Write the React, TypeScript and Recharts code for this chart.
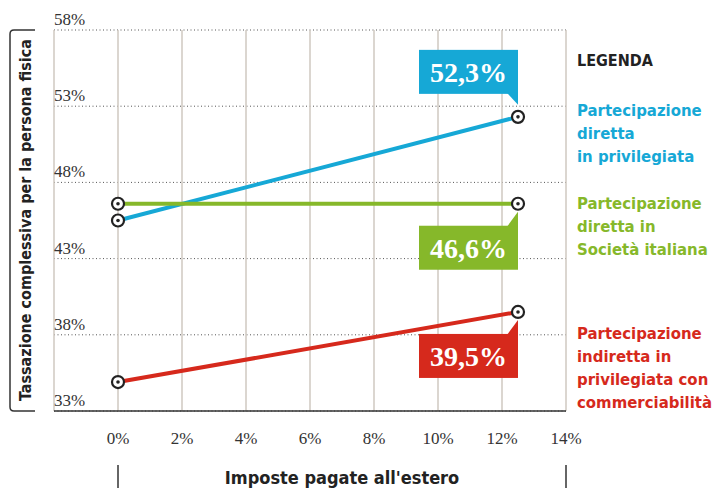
import React from 'react';
import { LineChart, Line, XAxis, YAxis, CartesianGrid, LabelList } from 'recharts';

const taxAbroad = [0, 12.5];
const diretta = [45.5, 52.3];
const italiana = [46.6, 46.6];
const indiretta = [34.9, 39.5];
const xTicks = [0, 2, 4, 6, 8, 10, 12, 14];
const yTicks = [33, 38, 43, 48, 53, 58];

const BLUE = '#16a8d6';
const GREEN = '#86b82a';
const RED = '#d6291c';
const DARK = '#222';

const SANS = "'DejaVu Sans Condensed', 'Liberation Sans Narrow', 'Roboto', sans-serif";
const SERIF = "'Liberation Serif', 'DejaVu Serif', serif";

const data = taxAbroad.map((x, i) => ({
  x,
  diretta: diretta[i],
  italiana: italiana[i],
  indiretta: indiretta[i],
}));

const fmt = (v: number) => v.toFixed(1).replace('.', ',') + '%';

const Marker = (props: any) => {
  const { cx, cy } = props;
  if (cx == null || cy == null) return null;
  return (
    <g>
      <circle cx={cx} cy={cy} r={6} fill="#fff" stroke={DARK} strokeWidth={2.2} />
      <circle cx={cx} cy={cy} r={1.8} fill={DARK} />
    </g>
  );
};

// callout box with a little tail pointing at the last point
const makeCallout = (color: string, above: boolean) => (props: any) => {
  const { x, y, value, index } = props;
  if (index !== taxAbroad.length - 1) return null;
  const w = 99;
  const h = 44;
  const right = x;
  const left = right - w;
  let top: number;
  let tail: string;
  if (above) {
    top = y - 23 - h;
    const b = top + h;
    tail = `M${right - 11},${b - 1} L${right},${b - 1} L${right},${b + 11} Z`;
  } else {
    top = y + 22;
    tail = `M${right - 11},${top + 1} L${right},${top + 1} L${right},${top - 14} Z`;
  }
  return (
    <g>
      <rect x={left} y={top} width={w} height={h} fill={color} />
      <path d={tail} fill={color} />
      <text
        x={left + w / 2}
        y={top + h / 2 + 1}
        textAnchor="middle"
        dominantBaseline="central"
        fill="#fff"
        fontFamily={SERIF}
        fontWeight="bold"
        fontSize={28}
      >
        {fmt(value)}
      </text>
    </g>
  );
};

const YTick = (props: any) => {
  const { x, y, payload } = props;
  return (
    <text x={x} y={y - 5} textAnchor="start" fill="#333" fontFamily={SERIF} fontSize={17}>
      {payload.value}%
    </text>
  );
};

const legend = [
  { color: BLUE, lines: ['Partecipazione', 'diretta', 'in privilegiata'], y: 110 },
  { color: GREEN, lines: ['Partecipazione', 'diretta in', 'Società italiana'], y: 203 },
  { color: RED, lines: ['Partecipazione', 'indiretta in', 'privilegiata con', 'commerciabilità'], y: 333 },
];

export default function App() {
  return (
    <div style={{ position: 'absolute', left: 0, top: 0, width: 716, height: 488, background: '#fff' }}>
      <LineChart width={716} height={488} data={data} margin={{ top: 30, right: 150, bottom: 47, left: 0 }}>
        <CartesianGrid vertical={false} stroke="#555" strokeDasharray="1 2.5" />
        <CartesianGrid horizontal={false} stroke="#cfc8c0" strokeWidth={1.5} />
        <XAxis
          dataKey="x"
          type="number"
          domain={[-2, 14]}
          ticks={xTicks}
          interval={0}
          tickFormatter={(v) => `${v}%`}
          axisLine={{ stroke: '#333', strokeWidth: 1.5 }}
          tickLine={false}
          tickSize={0}
          tickMargin={21}
          tick={{ fontSize: 17, fill: '#333', fontFamily: SERIF }}
        />
        <YAxis
          type="number"
          domain={[33, 58]}
          ticks={yTicks}
          interval={0}
          width={54}
          axisLine={false}
          tickLine={false}
          tickSize={0}
          tickMargin={0}
          tick={YTick}
        />
        <Line dataKey="diretta" stroke={BLUE} strokeWidth={4} dot={<Marker />} isAnimationActive={false}>
          <LabelList dataKey="diretta" content={makeCallout(BLUE, true)} />
        </Line>
        <Line dataKey="italiana" stroke={GREEN} strokeWidth={4} dot={<Marker />} isAnimationActive={false}>
          <LabelList dataKey="italiana" content={makeCallout(GREEN, false)} />
        </Line>
        <Line dataKey="indiretta" stroke={RED} strokeWidth={4} dot={<Marker />} isAnimationActive={false}>
          <LabelList dataKey="indiretta" content={makeCallout(RED, false)} />
        </Line>
      </LineChart>
      <svg width={716} height={488} style={{ position: 'absolute', left: 0, top: 0, pointerEvents: 'none' }}>
        <path d="M35,30 H14 Q10,30 10,34 V407 Q10,411 14,411 H35" fill="none" stroke="#333" strokeWidth={1.5} />
        <text
          transform="translate(25,220) rotate(-90)"
          textAnchor="middle"
          dominantBaseline="central"
          fontFamily={SANS}
          fontWeight="bold"
          fontSize={16}
          fill={DARK}
        >
          Tassazione complessiva per la persona fisica
        </text>
        <line x1={118} y1={465} x2={118} y2={488} stroke="#333" strokeWidth={1.5} />
        <line x1={566} y1={465} x2={566} y2={488} stroke="#333" strokeWidth={1.5} />
        <text x={342} y={477} textAnchor="middle" dominantBaseline="central" fontFamily={SANS} fontWeight="bold" fontSize={18} fill={DARK}>
          Imposte pagate all'estero
        </text>
        <text x={577} y={60} dominantBaseline="central" fontFamily={SANS} fontWeight="bold" fontSize={16} fill={DARK}>
          LEGENDA
        </text>
        {legend.map((item) =>
          item.lines.map((ln, i) => (
            <text
              key={item.color + i}
              x={577}
              y={item.y + i * 23.3}
              dominantBaseline="central"
              fontFamily={SANS}
              fontWeight="bold"
              fontSize={16.6}
              fill={item.color}
            >
              {ln}
            </text>
          ))
        )}
      </svg>
    </div>
  );
}
